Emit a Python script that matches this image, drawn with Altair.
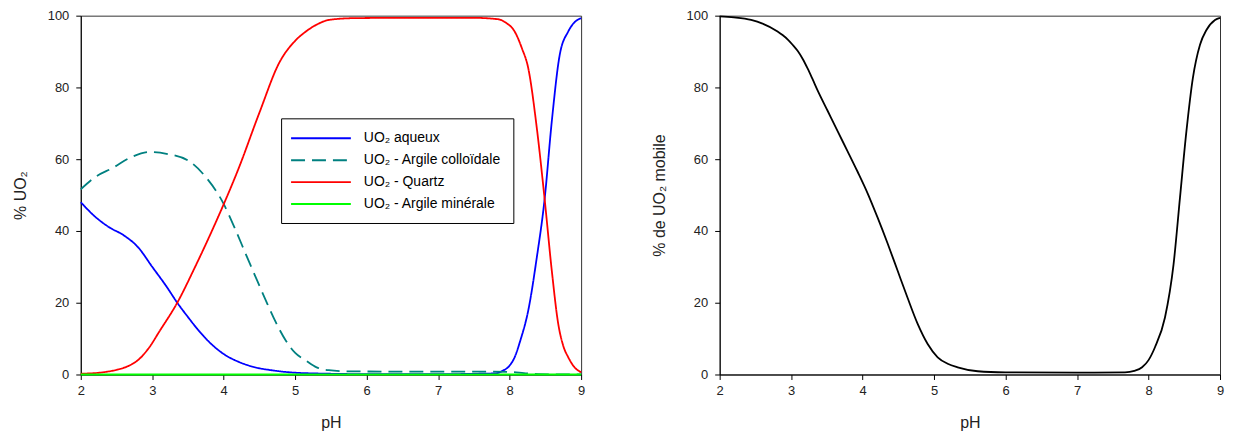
import altair as alt
import pandas as pd

# ---------------- data ----------------
names = ["UO₂ aqueux", "UO₂ - Argile colloïdale", "UO₂ - Quartz", "UO₂ - Argile minérale"]
colors = ["#0000FF", "#008080", "#FF0000", "#00FF00"]
dashes = [[1, 0], [14, 7], [1, 0], [1, 0]]

ph_aq = [2.0, 2.2, 2.4, 2.6, 2.8, 3.0, 3.2, 3.35, 3.5, 3.66, 3.8, 4.0, 4.2, 4.4, 4.7, 5.0, 5.5, 6.0,
         7.0, 7.8, 7.9, 8.0, 8.07, 8.15, 8.26, 8.38, 8.49, 8.59, 8.7, 8.82, 8.9, 9.0]
v_aq = [48.0, 44.0, 41.0, 38.8, 35.5, 30.0, 24.5, 20.0, 16.0, 12.0, 9.0, 5.7, 3.6, 2.2, 1.1, 0.5, 0.2, 0.1,
        0.1, 0.3, 1.0, 2.5, 4.8, 9.5, 17.8, 32.6, 49.0, 70.6, 89.0, 95.6, 98.0, 99.3]

ph_col = [2.0, 2.2, 2.45, 2.7, 2.96, 3.2, 3.52, 3.75, 3.99, 4.15, 4.31, 4.45, 4.59, 4.73, 4.87, 5.0,
          5.15, 5.3, 5.47, 5.7, 6.5, 7.5, 8.0, 8.2, 8.4, 9.0]
v_col = [51.6, 55.0, 57.6, 60.5, 62.0, 61.5, 59.4, 55.0, 47.9, 41.0, 33.5, 27.0, 20.6, 14.5, 9.4, 6.0,
         3.9, 2.0, 1.2, 0.9, 0.8, 0.8, 0.7, 0.4, 0.1, 0.0]

ph_qz = [2.0, 2.3, 2.5, 2.68, 2.8, 2.96, 3.1, 3.35, 3.6, 3.8, 3.99, 4.2, 4.5, 4.78, 5.0, 5.15, 5.3,
         5.47, 5.8, 6.5, 7.5, 7.84, 7.95, 8.07, 8.17, 8.26, 8.38, 8.49, 8.59, 8.68, 8.75, 8.82, 8.9, 9.0]
v_qz = [0.2, 0.6, 1.3, 2.5, 4.0, 7.6, 12.0, 20.0, 30.0, 38.5, 47.0, 57.0, 73.0, 87.0, 93.0, 95.6, 97.5,
        98.8, 99.3, 99.4, 99.4, 99.0, 98.0, 95.6, 91.0, 85.4, 68.7, 48.8, 28.9, 14.1, 8.0, 4.8, 2.2, 0.6]

ph_min = [2.0, 3.0, 4.0, 5.0, 6.0, 7.0, 8.0, 9.0]
v_min = [0.0, 0.0, 0.0, 0.0, 0.0, 0.0, 0.0, 0.0]

ph_mob = [2.0, 2.2, 2.44, 2.6, 2.81, 2.88, 2.95, 3.02, 3.09, 3.16, 3.23, 3.30, 3.37, 3.51, 3.65, 3.79,
          3.93, 4.07, 4.21, 4.35, 4.49, 4.63, 4.77, 4.91, 5.05, 5.19, 5.33, 5.61, 6.0, 7.0, 7.67, 7.8,
          7.91, 8.0, 8.09, 8.23, 8.35, 8.44, 8.53, 8.62, 8.72, 8.81, 8.93, 9.0]
v_mob = [99.8, 99.5, 98.8, 97.8, 95.6, 94.6, 93.4, 91.9, 90.2, 88.0, 85.3, 82.3, 79.2, 73.5, 67.8, 62.2,
         56.5, 50.5, 43.7, 36.5, 28.9, 21.3, 14.1, 8.5, 4.8, 3.0, 2.0, 0.9, 0.6, 0.5, 0.6, 1.0,
         2.0, 4.0, 7.6, 15.9, 30.7, 49.3, 67.8, 82.6, 91.9, 96.0, 98.8, 99.4]

x_ticks = [2, 3, 4, 5, 6, 7, 8, 9]
y_ticks = [0, 20, 40, 60, 80, 100]

# ---------------- tables ----------------
rows = []
for name, phs, vals in zip(names, [ph_aq, ph_col, ph_qz, ph_min], [v_aq, v_col, v_qz, v_min]):
    for p, v in zip(phs, vals):
        rows.append({"serie": name, "pH": p, "val": v})
df_left = pd.DataFrame(rows)
df_right = pd.DataFrame({"pH": ph_mob, "val": v_mob})

FONT = "Liberation Sans"

leg = dict(
    title=None, orient="none", legendX=201, legendY=103, direction="vertical",
    symbolType="M-1,0H7.57", symbolSize=196, symbolStrokeWidth=2, symbolOffset=-3,
    labelOffset=58, labelFontSize=14, labelFont=FONT, labelColor="black",
    padding=12, rowPadding=7, strokeColor="black", fillColor="white", labelLimit=300,
)

xaxis = alt.Axis(values=x_ticks, title="pH", format="d")
x_scale = alt.Scale(domain=[2, 9], nice=False, zero=False)
y_scale = alt.Scale(domain=[0, 100], nice=False)

W = 502
H = 360

left = alt.Chart(df_left).mark_line(strokeWidth=1.8, interpolate="monotone").encode(
    x=alt.X("pH:Q", scale=x_scale, axis=xaxis),
    y=alt.Y("val:Q", scale=y_scale, axis=alt.Axis(values=y_ticks, title="% UO₂")),
    color=alt.Color("serie:N", scale=alt.Scale(domain=names, range=colors), legend=alt.Legend(**leg)),
    strokeDash=alt.StrokeDash("serie:N", scale=alt.Scale(domain=names, range=dashes), legend=alt.Legend(**leg)),
).properties(width=W, height=H)

right = alt.Chart(df_right).mark_line(strokeWidth=1.8, interpolate="monotone", color="black").encode(
    x=alt.X("pH:Q", scale=x_scale, axis=xaxis),
    y=alt.Y("val:Q", scale=y_scale, axis=alt.Axis(values=y_ticks, title="% de UO₂ mobile")),
).properties(width=W, height=H)

chart = alt.hconcat(left, right, spacing=64).properties(
    padding={"left": 3, "top": 0, "right": 0, "bottom": 0}
).configure_view(
    stroke="#333", strokeWidth=1
).configure_axis(
    domainColor="black", domainWidth=1, tickColor="black", tickSize=5, tickWidth=1,
    labelFontSize=13, titleFontSize=16, labelFont=FONT, titleFont=FONT,
    titleFontWeight="normal", labelColor="#222", titleColor="#222", grid=False,
    labelFlush=False,
).configure_axisX(
    labelPadding=5, titlePadding=17,
).configure_axisY(
    labelPadding=7, titlePadding=19,
)

chart.save("out.html", embed_options={"renderer": "svg", "actions": False})
